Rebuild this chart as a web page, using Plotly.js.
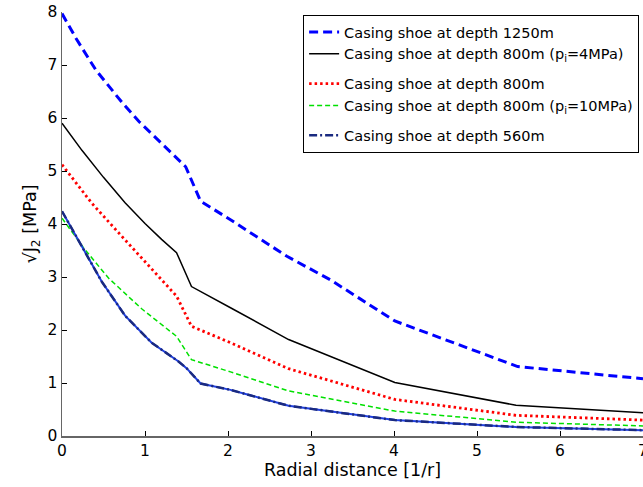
<!DOCTYPE html>
<html>
<head>
<meta charset="utf-8">
<script src="https://cdn.plot.ly/plotly-3.0.1.min.js"></script>
<style>html,body{margin:0;padding:0;background:#fff;}#chart{width:643px;height:487px;}</style>
</head>
<body>
<div id="chart"></div>
<script>
const names = [
  'Casing shoe at depth 1250m',
  'Casing shoe at depth 800m (p<sub>i</sub>=4MPa)',
  'Casing shoe at depth 800m',
  'Casing shoe at depth 800m (p<sub>i</sub>=10MPa)',
  'Casing shoe at depth 560m'
];
const x1250 = [0, 0.17, 0.41, 0.73, 0.93, 1.25, 1.49, 1.67, 2.03, 2.71, 3.23, 4.01, 5.49, 7];
const y1250 = [7.97, 7.50, 6.90, 6.28, 5.93, 5.45, 5.08, 4.43, 4.08, 3.39, 2.95, 2.17, 1.31, 1.08];
const x800p4 = [0, 0.24, 0.50, 0.76, 1.0, 1.2, 1.38, 1.56, 2.03, 2.73, 4.01, 5.47, 7];
const y800p4 = [5.90, 5.39, 4.88, 4.40, 4.01, 3.71, 3.46, 2.82, 2.42, 1.82, 1.01, 0.58, 0.44];
const x800 = [0, 0.15, 0.36, 0.76, 1.16, 1.38, 1.56, 2.03, 2.73, 4.01, 5.47, 7];
const y800 = [5.12, 4.81, 4.39, 3.70, 3.01, 2.64, 2.07, 1.76, 1.27, 0.69, 0.39, 0.30];
const x800p10 = [0, 0.26, 0.56, 0.96, 1.38, 1.56, 2.03, 2.73, 4.01, 5.47, 7];
const y800p10 = [4.11, 3.55, 2.98, 2.40, 1.88, 1.44, 1.21, 0.85, 0.47, 0.26, 0.19];
const x560 = [0, 0.26, 0.48, 0.76, 1.08, 1.40, 1.50, 1.67, 2.03, 2.73, 4.01, 5.47, 7];
const y560 = [4.24, 3.52, 2.91, 2.27, 1.76, 1.41, 1.28, 0.99, 0.87, 0.57, 0.30, 0.17, 0.11];
const xTicks = [0, 1, 2, 3, 4, 5, 6, 7];
const yTicks = [0, 1, 2, 3, 4, 5, 6, 7, 8];

const FONT = '"DejaVu Sans", sans-serif';
const traces = [
  {x: x1250, y: y1250, name: names[0], mode: 'lines', legendgroup: 'a',
   line: {color: '#0000ff', width: 3, dash: '9px,5px'}},
  {x: x800p4, y: y800p4, name: names[1], mode: 'lines', legendgroup: 'a',
   line: {color: '#000000', width: 1.5}},
  {x: x800, y: y800, name: names[2], mode: 'lines', legendgroup: 'b',
   line: {color: '#ff0000', width: 2.8, dash: '2.5px,3px'}},
  {x: x800p10, y: y800p10, name: names[3], mode: 'lines', legendgroup: 'b',
   line: {color: '#00e000', width: 1.5, dash: '5px,3px'}},
  {x: x560, y: y560, name: names[4], mode: 'lines', legendgroup: 'c', showlegend: false, hoverinfo: 'skip',
   line: {color: '#1f3fe0', width: 2}},
  {x: x560, y: y560, name: names[4], mode: 'lines', legendgroup: 'c',
   line: {color: '#1a2a80', width: 2.5, dash: '8px,3px,2px,3px'}}
];

const layout = {
  width: 643, height: 487,
  margin: {l: 62, r: 0, t: 12, b: 51},
  paper_bgcolor: '#ffffff', plot_bgcolor: '#ffffff',
  font: {family: FONT, size: 15, color: '#000'},
  showlegend: true,
  legend: {
    x: 0.415, y: 0.993, xanchor: 'left', yanchor: 'top',
    bordercolor: '#000', borderwidth: 1, bgcolor: '#fff',
    font: {family: FONT, size: 14.5, color: '#000'},
    tracegroupgap: 8, itemwidth: 30, traceorder: 'grouped'
  },
  xaxis: {
    range: [0, 7], tickvals: xTicks, ticktext: xTicks.map(String),
    ticks: 'inside', ticklen: 5, tickcolor: '#000', tickwidth: 1,
    showline: true, linecolor: '#666', linewidth: 1.5,
    showgrid: false, zeroline: false, ticklabeloverflow: 'allow',
    tickfont: {family: FONT, size: 15.5},
    title: {text: 'Radial distance [1/r]', font: {family: FONT, size: 17.5}, standoff: 3}
  },
  yaxis: {
    range: [0, 8], tickvals: yTicks, ticktext: yTicks.map(String),
    ticks: 'inside', ticklen: 5, tickcolor: '#000', tickwidth: 1,
    showline: true, linecolor: '#666', linewidth: 1.5,
    showgrid: false, zeroline: false, ticklabeloverflow: 'allow',
    tickfont: {family: FONT, size: 15.5},
    title: {text: '√J<sub>2</sub> [MPa]', font: {family: FONT, size: 17.5}, standoff: 6}
  }
};

Plotly.newPlot('chart', traces, layout, {displayModeBar: false, staticPlot: true});
</script>
</body>
</html>
